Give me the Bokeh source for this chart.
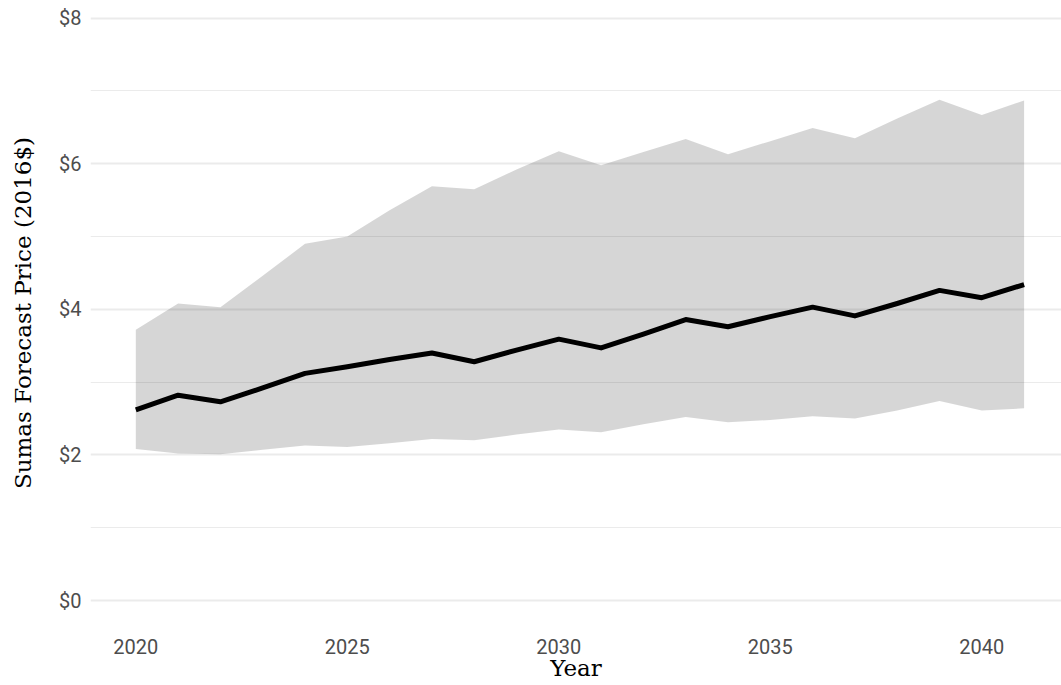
from bokeh.plotting import figure
from bokeh.models import Range1d, FixedTicker
from bokeh.embed import file_html
from bokeh.resources import INLINE

years = [2020, 2021, 2022, 2023, 2024, 2025, 2026, 2027, 2028, 2029, 2030,
         2031, 2032, 2033, 2034, 2035, 2036, 2037, 2038, 2039, 2040, 2041]
price = [2.62, 2.82, 2.73, 2.92, 3.12, 3.21, 3.31, 3.40, 3.28, 3.44, 3.59,
         3.47, 3.66, 3.86, 3.76, 3.90, 4.03, 3.91, 4.08, 4.26, 4.16, 4.34]
upper = [3.72, 4.08, 4.03, 4.46, 4.90, 5.00, 5.36, 5.69, 5.65, 5.92, 6.17,
         5.98, 6.16, 6.34, 6.13, 6.31, 6.49, 6.35, 6.62, 6.88, 6.67, 6.87]
lower = [2.08, 2.02, 2.01, 2.07, 2.13, 2.11, 2.16, 2.22, 2.20, 2.28, 2.35,
         2.31, 2.42, 2.52, 2.45, 2.48, 2.53, 2.50, 2.61, 2.74, 2.61, 2.64]
x_ticks = [2020, 2025, 2030, 2035, 2040]
y_ticks = [0, 2, 4, 6, 8]
y_minor = [1, 3, 5, 7]
y_labels = {0: "$0", 2: "$2", 4: "$4", 6: "$6", 8: "$8"}

p = figure(width=1061, height=685, output_backend="svg", toolbar_location=None,
           x_range=Range1d(2018.929, 2041.884), y_range=Range1d(-0.343, 8.242),
           min_border_left=90, min_border_right=0, min_border_top=0,
           min_border_bottom=60)
p.outline_line_color = None
p.background_fill_color = "white"
p.border_fill_color = "white"

p.varea(x=years, y1=lower, y2=upper, fill_color="black", fill_alpha=0.16)
p.line(x=years, y=price, line_color="black", line_width=5, line_join="round")

p.xaxis.ticker = FixedTicker(ticks=x_ticks)
p.yaxis.ticker = FixedTicker(ticks=y_ticks, minor_ticks=y_minor)
p.yaxis.major_label_overrides = y_labels

for ax in (p.xaxis[0], p.yaxis[0]):
    ax.axis_line_color = None
    ax.major_tick_line_color = None
    ax.minor_tick_line_color = None
    ax.major_tick_out = 0
    ax.major_tick_in = 0
    ax.major_label_text_font = "Roboto"
    ax.major_label_text_font_size = "20px"
    ax.major_label_text_color = "#4d4d4d"
    ax.axis_label_text_font = "DejaVu Serif"
    ax.axis_label_text_font_style = "normal"
    ax.axis_label_text_font_size = "23px"
    ax.axis_label_text_color = "black"

p.xaxis.axis_label = "Year"
p.yaxis.axis_label = "Sumas Forecast Price (2016$)"
p.xaxis.major_label_standoff = 13
p.xaxis.axis_label_standoff = -2
p.yaxis.major_label_standoff = 5
p.yaxis.axis_label_standoff = 20

p.xgrid.grid_line_color = None
p.ygrid.grid_line_color = "#ebebeb"
p.ygrid.grid_line_width = 2
p.ygrid.minor_grid_line_color = "#ebebeb"
p.ygrid.minor_grid_line_width = 1

open("out.html", "w").write(file_html(p, INLINE))
